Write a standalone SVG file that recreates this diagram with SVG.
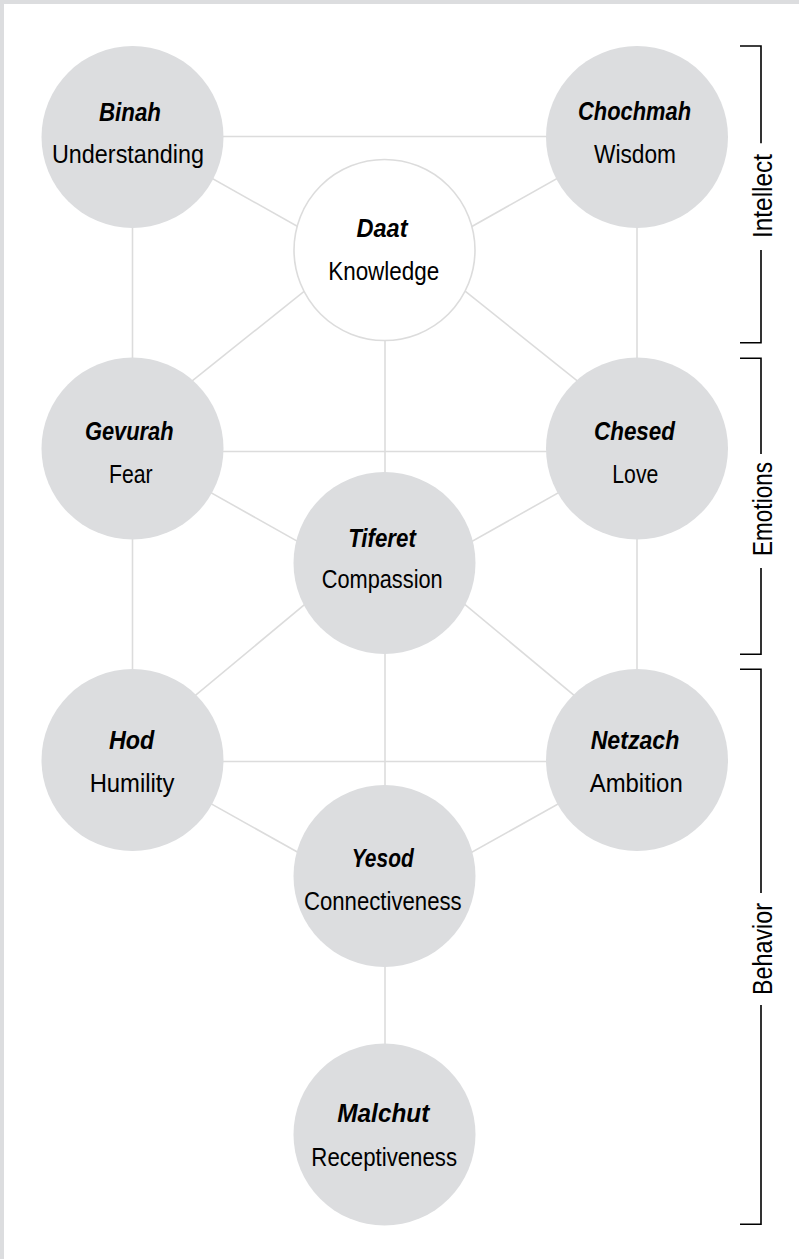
<svg xmlns="http://www.w3.org/2000/svg" width="799" height="1259" viewBox="0 0 799 1259">
<style>
.frame{fill:#dcdddf}
.edge{stroke:#dcdcdc;stroke-width:1.6;fill:none}
.node{fill:#dcdddf}
.open{fill:#ffffff;stroke:#dcdcdc;stroke-width:1.6}
.t{font-family:"Liberation Sans Narrow","Liberation Sans",Arial,sans-serif;font-size:25.5px;font-weight:bold;font-style:italic;fill:#000;text-anchor:middle}
.s{font-family:"Liberation Sans Narrow","Liberation Sans",Arial,sans-serif;font-size:25.5px;fill:#000;text-anchor:middle}
.side{font-family:"Liberation Sans Narrow","Liberation Sans",Arial,sans-serif;font-size:27.5px;fill:#000;text-anchor:middle}
.br{stroke:#000;stroke-width:1.6;fill:none}
</style>
<rect width="799" height="1259" fill="#ffffff"/>
<rect class="frame" x="0" y="0" width="799" height="4"/>
<rect class="frame" x="0" y="0" width="4" height="1259"/>
<g id="connectors">
<line class="edge" x1="132.5" y1="136.5" x2="637" y2="136.5"/>
<line class="edge" x1="132.5" y1="451.5" x2="637" y2="451.5"/>
<line class="edge" x1="132.5" y1="761.5" x2="637" y2="761.5"/>
<line class="edge" x1="132.5" y1="137" x2="132.5" y2="760"/>
<line class="edge" x1="637" y1="137" x2="637" y2="760"/>
<line class="edge" x1="385" y1="250" x2="385" y2="1134"/>
<line class="edge" x1="140" y1="137.8" x2="330" y2="244.7"/>
<line class="edge" x1="629.5" y1="137.8" x2="439.5" y2="244.7"/>
<line class="edge" x1="150" y1="414.6" x2="330" y2="270.6"/>
<line class="edge" x1="619.5" y1="414.6" x2="439.5" y2="270.6"/>
<line class="edge" x1="150" y1="458.4" x2="330" y2="559.6"/>
<line class="edge" x1="619.5" y1="458.4" x2="439.5" y2="559.6"/>
<line class="edge" x1="330" y1="583.3" x2="150" y2="733.2"/>
<line class="edge" x1="439.5" y1="583.3" x2="619.5" y2="733.2"/>
<line class="edge" x1="150" y1="769.6" x2="330" y2="870.3"/>
<line class="edge" x1="619.5" y1="769.6" x2="439.5" y2="870.3"/>
</g>
<g id="binah"><circle class="node" cx="132.5" cy="137" r="91"/><text class="t" x="130" y="120.7" textLength="62" lengthAdjust="spacingAndGlyphs">Binah</text><text class="s" x="128" y="163.3" textLength="152" lengthAdjust="spacingAndGlyphs">Understanding</text></g>
<g id="chochmah"><circle class="node" cx="637" cy="137" r="91"/><text class="t" x="634.5" y="120.3" textLength="113" lengthAdjust="spacingAndGlyphs">Chochmah</text><text class="s" x="635" y="163.3" textLength="82" lengthAdjust="spacingAndGlyphs">Wisdom</text></g>
<g id="daat"><circle class="open" cx="384.5" cy="250" r="90.5"/><text class="t" x="382" y="236.7" textLength="51" lengthAdjust="spacingAndGlyphs">Daat</text><text class="s" x="383.7" y="280" textLength="111" lengthAdjust="spacingAndGlyphs">Knowledge</text></g>
<g id="gevurah"><circle class="node" cx="132.5" cy="448.5" r="91"/><text class="t" x="129.3" y="440" textLength="88.7" lengthAdjust="spacingAndGlyphs">Gevurah</text><text class="s" x="130.8" y="482.7" textLength="43.7" lengthAdjust="spacingAndGlyphs">Fear</text></g>
<g id="chesed"><circle class="node" cx="637" cy="448.5" r="91"/><text class="t" x="634.5" y="440" textLength="81" lengthAdjust="spacingAndGlyphs">Chesed</text><text class="s" x="635.3" y="482.7" textLength="46" lengthAdjust="spacingAndGlyphs">Love</text></g>
<g id="tiferet"><circle class="node" cx="384.5" cy="563" r="91"/><text class="t" x="382" y="546.7" textLength="67.7" lengthAdjust="spacingAndGlyphs">Tiferet</text><text class="s" x="382.2" y="588.3" textLength="121" lengthAdjust="spacingAndGlyphs">Compassion</text></g>
<g id="hod"><circle class="node" cx="132.5" cy="760" r="91"/><text class="t" x="131.7" y="749" textLength="45.3" lengthAdjust="spacingAndGlyphs">Hod</text><text class="s" x="132" y="792.3" textLength="84.7" lengthAdjust="spacingAndGlyphs">Humility</text></g>
<g id="netzach"><circle class="node" cx="637" cy="760" r="91"/><text class="t" x="635" y="749" textLength="88.7" lengthAdjust="spacingAndGlyphs">Netzach</text><text class="s" x="636.2" y="792.3" textLength="93" lengthAdjust="spacingAndGlyphs">Ambition</text></g>
<g id="yesod"><circle class="node" cx="384.5" cy="876" r="91"/><text class="t" x="382.7" y="866.7" textLength="62" lengthAdjust="spacingAndGlyphs">Yesod</text><text class="s" x="382.8" y="910" textLength="157.7" lengthAdjust="spacingAndGlyphs">Connectiveness</text></g>
<g id="malchut"><circle class="node" cx="384.5" cy="1134.5" r="91"/><text class="t" x="383.3" y="1122.3" textLength="92" lengthAdjust="spacingAndGlyphs">Malchut</text><text class="s" x="384.2" y="1165.7" textLength="145.7" lengthAdjust="spacingAndGlyphs">Receptiveness</text></g>
<g id="intellect">
<path class="br" d="M740,46 H761 V143.3 M761,250 V342.7 H740"/>
<text class="side" transform="translate(771.5,196) rotate(-90)" textLength="84" lengthAdjust="spacingAndGlyphs">Intellect</text>
</g>
<g id="emotions">
<path class="br" d="M740,358.3 H761 V454 M761,568 V654.3 H740"/>
<text class="side" transform="translate(771.5,509) rotate(-90)" textLength="94" lengthAdjust="spacingAndGlyphs">Emotions</text>
</g>
<g id="behavior">
<path class="br" d="M740,669.3 H761 V893 M761,1005 V1224.3 H740"/>
<text class="side" transform="translate(771.5,949) rotate(-90)" textLength="92" lengthAdjust="spacingAndGlyphs">Behavior</text>
</g>
</svg>
